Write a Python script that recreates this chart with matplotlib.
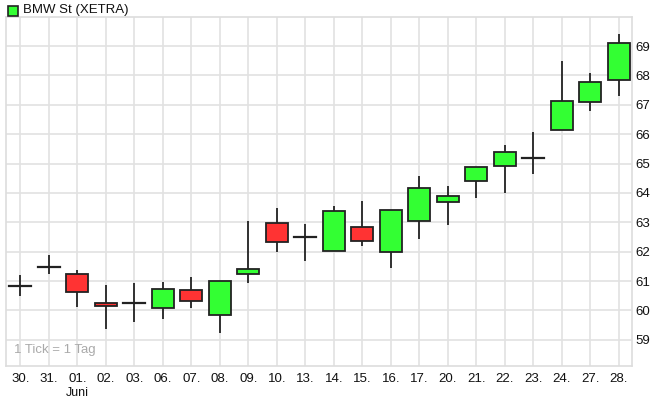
import matplotlib.pyplot as plt
from matplotlib.patches import Rectangle

# daily candles
days = ['30.', '31.', '01.', '02.', '03.', '06.', '07.', '08.', '09.', '10.', '13.',
        '14.', '15.', '16.', '17.', '20.', '21.', '22.', '23.', '24.', '27.', '28.']
opens = [60.85, 61.49, 61.25, 60.27, 60.25, 60.10, 60.69, 59.83, 61.25, 62.98, 62.49,
         62.01, 62.84, 61.98, 63.03, 63.68, 64.40, 64.93, 65.19, 66.16, 67.09, 67.86]
closes = [60.85, 61.49, 60.63, 60.14, 60.25, 60.74, 60.32, 60.99, 61.42, 62.32, 62.49,
          63.37, 62.35, 63.43, 64.17, 63.89, 64.87, 65.39, 65.19, 67.12, 67.77, 69.12]
highs = [61.22, 61.90, 61.39, 60.88, 60.93, 60.97, 61.14, 60.99, 63.06, 63.49, 62.94,
         63.54, 63.72, 63.43, 64.59, 64.25, 64.87, 65.65, 66.07, 68.49, 68.09, 69.40]
lows = [60.48, 61.24, 60.11, 59.36, 59.62, 59.71, 60.08, 59.23, 60.93, 61.99, 61.70,
        62.01, 62.18, 61.45, 62.43, 62.90, 63.83, 64.00, 64.65, 66.16, 66.78, 67.30]
yticks = [59, 60, 61, 62, 63, 64, 65, 66, 67, 68, 69]

up_col = '#33ff33'
down_col = '#ff3333'
edge = '#222222'
grid_col = '#e2e2e2'
plt.rcParams['font.family'] = ['Liberation Sans', 'DejaVu Sans']

fig = plt.figure(figsize=(6.6, 4.01), dpi=100)
ax = fig.add_axes([0.0091, 0.0873, 0.948, 0.871])

w = 0.78
for i in range(len(days)):
    o, c, h, l = opens[i], closes[i], highs[i], lows[i]
    ax.plot([i, i], [l, h], color=edge, lw=1.3, zorder=3, solid_capstyle='butt')
    if abs(c - o) < 0.02:
        ax.plot([i - w / 2, i + w / 2], [o, o], color=edge, lw=1.6, zorder=4)
    else:
        col = up_col if c > o else down_col
        ax.add_patch(Rectangle((i - w / 2, min(o, c)), w, abs(c - o),
                               facecolor=col, edgecolor=edge, lw=1.3, zorder=4))

ax.set_xlim(-0.5, len(days) - 0.55)
ax.set_ylim(58.11, 70.0)
ax.set_xticks(range(len(days)))
ax.set_xticklabels(days, fontsize=9.5, color='#111111')
ax.set_yticks(yticks)
ax.set_yticklabels([str(v) for v in yticks], fontsize=9.5, color='#111111')
ax.yaxis.tick_right()
ax.tick_params(axis='x', length=0, pad=5)
ax.tick_params(axis='y', length=0, pad=3)
ax.grid(True, color=grid_col, lw=1.2, zorder=0)
ax.set_axisbelow(True)
for s in ax.spines.values():
    s.set_color('#dddddd')
    s.set_linewidth(1.2)

fig.text(77 / 660, 1 - 393 / 401, 'Juni', ha='center', va='center', fontsize=9, color='#111111')
ax.text(0.012, 0.03, '1 Tick = 1 Tag', transform=ax.transAxes, ha='left', va='bottom',
        fontsize=9.5, color='#aaaaaa')

# legend square + title
fig.patches.append(Rectangle((8 / 660, 1 - 16 / 401), 10 / 660, 10 / 401, transform=fig.transFigure,
                             facecolor=up_col, edgecolor=edge, lw=1.2))
fig.text(23 / 660, 1 - 10 / 401, 'BMW St (XETRA)', ha='left', va='center', fontsize=9.5, color='#111111')

fig.savefig('out.png', dpi=100)
